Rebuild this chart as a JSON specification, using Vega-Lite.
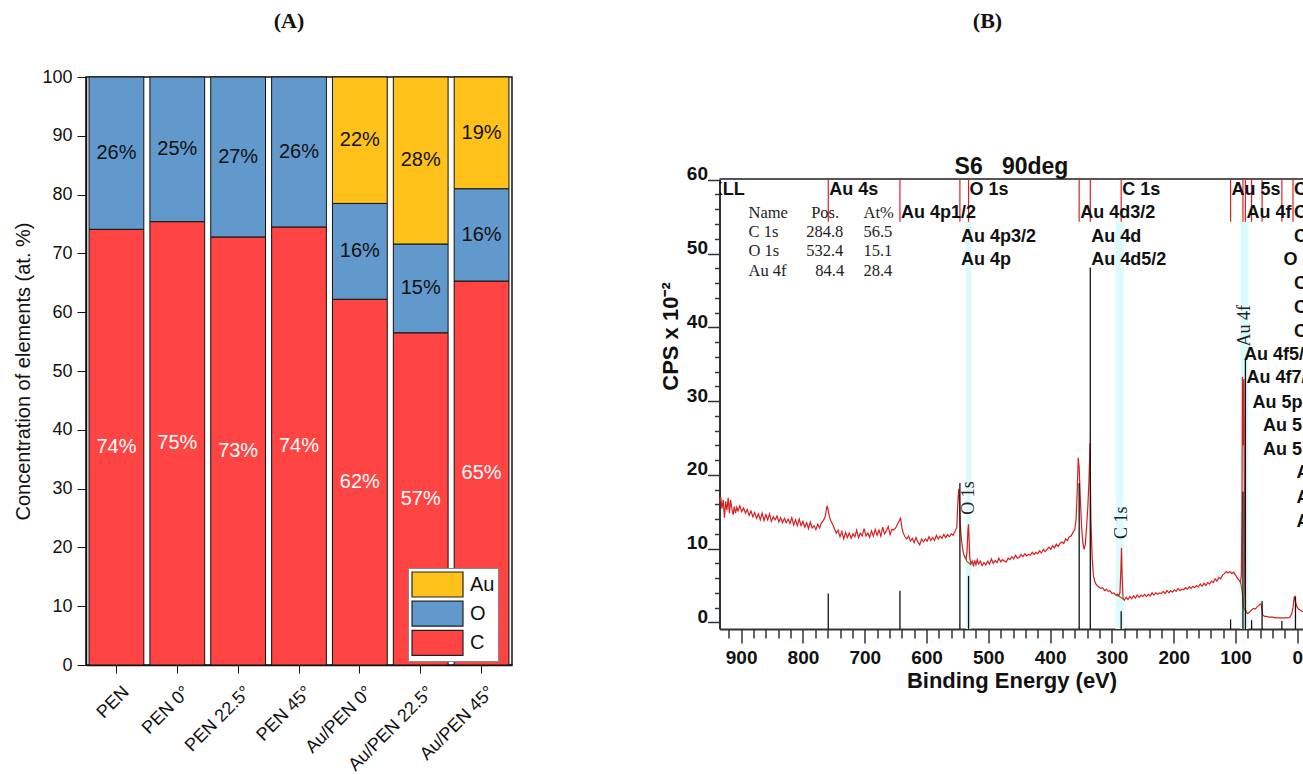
{
 "$schema": "https://vega.github.io/schema/vega-lite/v6.json",
 "background": "white",
 "padding": {"left": 13, "top": 10, "right": 0, "bottom": 0},
 "config": {
  "font": "Liberation Sans",
  "view": {"stroke": null},
  "axis": {"grid": false, "labelColor": "#111", "titleColor": "#111", "domainColor": "#111", "tickColor": "#111", "labelOverlap": false}
 },
 "datasets": {
  "bars": [
   {"sample": "PEN", "element": "C", "value": 74.1, "label": "74%"},
   {"sample": "PEN", "element": "O", "value": 25.9, "label": "26%"},
   {"sample": "PEN 0°", "element": "C", "value": 75.4, "label": "75%"},
   {"sample": "PEN 0°", "element": "O", "value": 24.6, "label": "25%"},
   {"sample": "PEN 22.5°", "element": "C", "value": 72.8, "label": "73%"},
   {"sample": "PEN 22.5°", "element": "O", "value": 27.2, "label": "27%"},
   {"sample": "PEN 45°", "element": "C", "value": 74.5, "label": "74%"},
   {"sample": "PEN 45°", "element": "O", "value": 25.5, "label": "26%"},
   {"sample": "Au/PEN 0°", "element": "C", "value": 62.2, "label": "62%"},
   {"sample": "Au/PEN 0°", "element": "O", "value": 16.3, "label": "16%"},
   {"sample": "Au/PEN 0°", "element": "Au", "value": 21.5, "label": "22%"},
   {"sample": "Au/PEN 22.5°", "element": "C", "value": 56.5, "label": "57%"},
   {"sample": "Au/PEN 22.5°", "element": "O", "value": 15.1, "label": "15%"},
   {"sample": "Au/PEN 22.5°", "element": "Au", "value": 28.4, "label": "28%"},
   {"sample": "Au/PEN 45°", "element": "C", "value": 65.3, "label": "65%"},
   {"sample": "Au/PEN 45°", "element": "O", "value": 15.7, "label": "16%"},
   {"sample": "Au/PEN 45°", "element": "Au", "value": 19.0, "label": "19%"}
  ],
  "spectrum": [
   {"eV":935,"cps":16.4},{"eV":933,"cps":17.0},{"eV":931,"cps":15.4},{"eV":929,"cps":16.6},{"eV":927,"cps":14.2},{"eV":925,"cps":16.4},{"eV":923,"cps":15.2},{"eV":921,"cps":16.9},{"eV":919,"cps":14.8},{"eV":917,"cps":16.6},{"eV":915,"cps":15.4},{"eV":913,"cps":14.6},{"eV":911,"cps":15.7},{"eV":909,"cps":14.8},{"eV":907,"cps":15.6},{"eV":905,"cps":15.1},{"eV":902,"cps":15.8},{"eV":899,"cps":15.0},{"eV":896,"cps":15.5},{"eV":893,"cps":14.8},{"eV":890,"cps":15.3},{"eV":887,"cps":14.5},{"eV":884,"cps":15.1},{"eV":881,"cps":14.3},{"eV":878,"cps":14.9},{"eV":875,"cps":14.1},{"eV":872,"cps":14.7},{"eV":869,"cps":13.9},{"eV":866,"cps":14.8},{"eV":863,"cps":13.8},{"eV":860,"cps":14.6},{"eV":857,"cps":13.9},{"eV":854,"cps":14.7},{"eV":851,"cps":13.7},{"eV":848,"cps":14.3},{"eV":845,"cps":13.9},{"eV":842,"cps":14.4},{"eV":839,"cps":13.6},{"eV":836,"cps":14.2},{"eV":833,"cps":13.5},{"eV":830,"cps":14.1},{"eV":827,"cps":13.5},{"eV":824,"cps":14.0},{"eV":821,"cps":13.4},{"eV":818,"cps":14.2},{"eV":815,"cps":13.2},{"eV":812,"cps":13.9},{"eV":809,"cps":13.1},{"eV":806,"cps":14.0},{"eV":803,"cps":13.1},{"eV":800,"cps":13.7},{"eV":797,"cps":12.9},{"eV":794,"cps":13.5},{"eV":791,"cps":12.7},{"eV":788,"cps":13.6},{"eV":785,"cps":12.8},{"eV":782,"cps":13.1},{"eV":779,"cps":12.6},{"eV":776,"cps":13.3},{"eV":773,"cps":12.8},{"eV":770,"cps":13.5},{"eV":767,"cps":13.8},{"eV":764,"cps":14.3},{"eV":761,"cps":15.8},{"eV":759,"cps":15.2},{"eV":757,"cps":14.3},{"eV":755,"cps":13.8},{"eV":752,"cps":13.3},{"eV":749,"cps":12.7},{"eV":746,"cps":12.1},{"eV":743,"cps":12.5},{"eV":740,"cps":11.6},{"eV":737,"cps":12.3},{"eV":734,"cps":11.3},{"eV":731,"cps":12.2},{"eV":728,"cps":11.5},{"eV":725,"cps":12.1},{"eV":722,"cps":11.4},{"eV":719,"cps":12.0},{"eV":716,"cps":11.6},{"eV":713,"cps":12.5},{"eV":710,"cps":11.5},{"eV":707,"cps":12.1},{"eV":704,"cps":11.7},{"eV":701,"cps":12.7},{"eV":698,"cps":11.7},{"eV":695,"cps":12.1},{"eV":692,"cps":11.5},{"eV":689,"cps":12.4},{"eV":686,"cps":11.7},{"eV":683,"cps":12.6},{"eV":680,"cps":11.8},{"eV":677,"cps":12.5},{"eV":674,"cps":11.7},{"eV":671,"cps":12.9},{"eV":668,"cps":12.0},{"eV":665,"cps":12.4},{"eV":662,"cps":13.0},{"eV":659,"cps":11.9},{"eV":656,"cps":12.6},{"eV":653,"cps":12.5},{"eV":650,"cps":12.8},{"eV":647,"cps":13.3},{"eV":644,"cps":13.8},{"eV":642,"cps":14.1},{"eV":640,"cps":12.9},{"eV":638,"cps":12.2},{"eV":635,"cps":11.6},{"eV":632,"cps":11.3},{"eV":629,"cps":11.7},{"eV":626,"cps":11.0},{"eV":623,"cps":11.4},{"eV":620,"cps":10.8},{"eV":617,"cps":11.5},{"eV":614,"cps":10.9},{"eV":611,"cps":10.5},{"eV":608,"cps":11.3},{"eV":605,"cps":10.9},{"eV":602,"cps":11.3},{"eV":599,"cps":11.0},{"eV":596,"cps":11.6},{"eV":593,"cps":11.1},{"eV":590,"cps":11.5},{"eV":587,"cps":11.1},{"eV":584,"cps":11.8},{"eV":581,"cps":11.3},{"eV":578,"cps":11.7},{"eV":575,"cps":11.4},{"eV":572,"cps":11.9},{"eV":569,"cps":11.5},{"eV":566,"cps":11.9},{"eV":563,"cps":11.6},{"eV":560,"cps":12.0},{"eV":557,"cps":11.8},{"eV":554,"cps":12.3},{"eV":551,"cps":12.9},{"eV":549.5,"cps":16.0},{"eV":548,"cps":18.1},{"eV":547,"cps":17.2},{"eV":545.5,"cps":13.5},{"eV":544,"cps":11.6},{"eV":542,"cps":10.2},{"eV":540,"cps":9.3},{"eV":538,"cps":8.8},{"eV":536,"cps":8.6},{"eV":534.5,"cps":9.5},{"eV":533,"cps":12.5},{"eV":532,"cps":13.3},{"eV":531,"cps":11.0},{"eV":530,"cps":8.7},{"eV":528,"cps":7.9},{"eV":526,"cps":8.3},{"eV":524,"cps":7.6},{"eV":522,"cps":8.4},{"eV":520,"cps":7.8},{"eV":518,"cps":8.5},{"eV":516,"cps":7.9},{"eV":513,"cps":8.3},{"eV":510,"cps":7.7},{"eV":507,"cps":8.1},{"eV":504,"cps":7.8},{"eV":501,"cps":8.3},{"eV":498,"cps":7.9},{"eV":495,"cps":8.6},{"eV":492,"cps":8.0},{"eV":489,"cps":8.4},{"eV":486,"cps":8.1},{"eV":483,"cps":8.7},{"eV":480,"cps":8.2},{"eV":477,"cps":8.5},{"eV":474,"cps":8.3},{"eV":471,"cps":8.2},{"eV":468,"cps":8.7},{"eV":465,"cps":8.5},{"eV":462,"cps":8.9},{"eV":459,"cps":8.6},{"eV":456,"cps":9.1},{"eV":453,"cps":8.7},{"eV":450,"cps":8.8},{"eV":447,"cps":9.2},{"eV":444,"cps":8.9},{"eV":441,"cps":9.3},{"eV":438,"cps":9.0},{"eV":435,"cps":9.2},{"eV":432,"cps":9.1},{"eV":429,"cps":9.5},{"eV":426,"cps":9.2},{"eV":423,"cps":9.5},{"eV":420,"cps":9.3},{"eV":417,"cps":9.7},{"eV":414,"cps":9.4},{"eV":411,"cps":9.9},{"eV":408,"cps":9.6},{"eV":405,"cps":9.9},{"eV":402,"cps":10.2},{"eV":399,"cps":9.9},{"eV":396,"cps":10.4},{"eV":393,"cps":10.1},{"eV":390,"cps":10.6},{"eV":387,"cps":10.3},{"eV":384,"cps":10.7},{"eV":381,"cps":10.9},{"eV":378,"cps":10.7},{"eV":375,"cps":11.3},{"eV":372,"cps":11.1},{"eV":369,"cps":11.6},{"eV":366,"cps":11.7},{"eV":363,"cps":12.2},{"eV":360,"cps":12.6},{"eV":358,"cps":14.0},{"eV":356,"cps":18.0},{"eV":354.5,"cps":22.3},{"eV":353,"cps":21.0},{"eV":351,"cps":16.5},{"eV":349,"cps":12.8},{"eV":347,"cps":10.8},{"eV":345,"cps":9.9},{"eV":343,"cps":10.6},{"eV":341,"cps":13.0},{"eV":339,"cps":15.6},{"eV":337,"cps":19.5},{"eV":335.5,"cps":24.3},{"eV":334,"cps":14.0},{"eV":332,"cps":8.8},{"eV":330,"cps":6.4},{"eV":328,"cps":5.6},{"eV":326,"cps":5.2},{"eV":324,"cps":5.0},{"eV":321,"cps":4.8},{"eV":318,"cps":4.6},{"eV":315,"cps":4.7},{"eV":312,"cps":4.3},{"eV":309,"cps":4.5},{"eV":306,"cps":4.2},{"eV":303,"cps":4.3},{"eV":300,"cps":3.9},{"eV":297,"cps":4.0},{"eV":294,"cps":3.7},{"eV":291,"cps":3.8},{"eV":289,"cps":3.6},{"eV":287,"cps":4.0},{"eV":285.5,"cps":7.0},{"eV":284.5,"cps":10.1},{"eV":283.5,"cps":6.2},{"eV":282,"cps":3.3},{"eV":280,"cps":3.0},{"eV":277,"cps":3.4},{"eV":274,"cps":3.1},{"eV":271,"cps":3.5},{"eV":268,"cps":3.2},{"eV":265,"cps":3.6},{"eV":262,"cps":3.3},{"eV":259,"cps":3.7},{"eV":256,"cps":3.4},{"eV":253,"cps":3.7},{"eV":250,"cps":3.5},{"eV":247,"cps":3.8},{"eV":244,"cps":3.5},{"eV":241,"cps":3.8},{"eV":238,"cps":3.6},{"eV":235,"cps":4.0},{"eV":232,"cps":3.7},{"eV":229,"cps":4.0},{"eV":226,"cps":3.8},{"eV":223,"cps":4.0},{"eV":220,"cps":3.9},{"eV":217,"cps":4.2},{"eV":214,"cps":3.9},{"eV":211,"cps":4.3},{"eV":208,"cps":4.0},{"eV":205,"cps":4.3},{"eV":202,"cps":4.1},{"eV":199,"cps":4.4},{"eV":196,"cps":4.2},{"eV":193,"cps":4.6},{"eV":190,"cps":4.3},{"eV":187,"cps":4.5},{"eV":184,"cps":4.4},{"eV":181,"cps":4.7},{"eV":178,"cps":4.5},{"eV":175,"cps":4.8},{"eV":172,"cps":4.6},{"eV":169,"cps":4.9},{"eV":166,"cps":4.7},{"eV":163,"cps":5.0},{"eV":160,"cps":4.8},{"eV":157,"cps":5.2},{"eV":154,"cps":4.9},{"eV":151,"cps":5.3},{"eV":148,"cps":5.0},{"eV":145,"cps":5.4},{"eV":142,"cps":5.2},{"eV":139,"cps":5.6},{"eV":136,"cps":5.4},{"eV":133,"cps":5.9},{"eV":130,"cps":5.6},{"eV":127,"cps":6.1},{"eV":124,"cps":5.9},{"eV":121,"cps":6.4},{"eV":118,"cps":6.6},{"eV":115,"cps":6.9},{"eV":112,"cps":6.7},{"eV":109,"cps":6.9},{"eV":106,"cps":6.6},{"eV":103,"cps":6.8},{"eV":100,"cps":6.4},{"eV":97,"cps":6.0},{"eV":94,"cps":5.7},{"eV":92,"cps":5.4},{"eV":90.5,"cps":6.5},{"eV":89.5,"cps":16.0},{"eV":88.8,"cps":33.3},{"eV":88.0,"cps":24.0},{"eV":87.2,"cps":30.5},{"eV":86.5,"cps":33.0},{"eV":85.8,"cps":18.0},{"eV":85.0,"cps":4.0},{"eV":84.0,"cps":1.8},{"eV":82,"cps":1.3},{"eV":80,"cps":1.2},{"eV":77,"cps":1.4},{"eV":74,"cps":1.7},{"eV":71,"cps":1.9},{"eV":68,"cps":1.8},{"eV":65,"cps":2.1},{"eV":62,"cps":2.3},{"eV":60,"cps":2.5},{"eV":58,"cps":2.3},{"eV":56,"cps":1.0},{"eV":53,"cps":0.8},{"eV":50,"cps":0.8},{"eV":45,"cps":0.7},{"eV":40,"cps":0.7},{"eV":35,"cps":0.6},{"eV":30,"cps":0.6},{"eV":25,"cps":0.6},{"eV":20,"cps":0.6},{"eV":15,"cps":0.6},{"eV":12,"cps":0.7},{"eV":9,"cps":1.2},{"eV":7,"cps":2.0},{"eV":5,"cps":3.4},{"eV":4,"cps":3.5},{"eV":3,"cps":2.8},{"eV":1,"cps":2.2},{"eV":-2,"cps":1.8},{"eV":-5,"cps":1.6},{"eV":-8,"cps":1.5},{"eV":-10,"cps":1.5}
  ],
  "bg": [
   {"peak": "O 1s", "eV": 538, "cps": 9.0}, {"peak": "O 1s", "eV": 535, "cps": 8.3}, {"peak": "O 1s", "eV": 528, "cps": 7.8},
   {"peak": "C 1s", "eV": 294, "cps": 3.7}, {"peak": "C 1s", "eV": 288, "cps": 3.5}, {"peak": "C 1s", "eV": 281, "cps": 3.1},
   {"peak": "Au 4f", "eV": 91.5, "cps": 5.4}, {"peak": "Au 4f", "eV": 89, "cps": 4.0}, {"peak": "Au 4f", "eV": 87, "cps": 2.0}, {"peak": "Au 4f", "eV": 82, "cps": 1.3}
  ],
  "sticks": [
   {"eV": 759, "h": 3.9}, {"eV": 643, "h": 4.3}, {"eV": 546, "h": 18.9}, {"eV": 532, "h": 6.3},
   {"eV": 353, "h": 18.9}, {"eV": 335, "h": 48.1}, {"eV": 285, "h": 1.5}, {"eV": 108, "h": 0.4},
   {"eV": 88, "h": 17.7}, {"eV": 84, "h": 35.8}, {"eV": 74, "h": 0.3}, {"eV": 57, "h": 2.9},
   {"eV": 25, "h": 0.2}, {"eV": 3, "h": 3.5}
  ],
  "markers": [
   {"eV": 759}, {"eV": 643}, {"eV": 546}, {"eV": 532}, {"eV": 353}, {"eV": 335}, {"eV": 285},
   {"eV": 108}, {"eV": 88}, {"eV": 84}, {"eV": 74}, {"eV": 57}, {"eV": 25}, {"eV": 7}
  ],
  "bands": [
   {"region": "O 1s", "lo": 528, "hi": 536},
   {"region": "C 1s", "lo": 281, "hi": 294},
   {"region": "Au 4f", "lo": 79, "hi": 92}
  ],
  "peaklabels": [
   {"eV": 983, "cps": 58.6, "text": "O KLL"},
   {"eV": 759, "cps": 58.6, "text": "Au 4s"},
   {"eV": 532, "cps": 58.6, "text": "O 1s"},
   {"eV": 285, "cps": 58.6, "text": "C 1s"},
   {"eV": 108, "cps": 58.6, "text": "Au 5s"},
   {"eV": 7, "cps": 58.6, "text": "C 2s"},
   {"eV": 643, "cps": 55.5, "text": "Au 4p1/2"},
   {"eV": 353, "cps": 55.5, "text": "Au 4d3/2"},
   {"eV": 84, "cps": 55.5, "text": "Au 4f"},
   {"eV": 7, "cps": 55.5, "text": "C 2p"},
   {"eV": 546, "cps": 52.2, "text": "Au 4p3/2"},
   {"eV": 335, "cps": 52.2, "text": "Au 4d"},
   {"eV": 7, "cps": 52.2, "text": "C 2s"},
   {"eV": 546, "cps": 49.1, "text": "Au 4p"},
   {"eV": 335, "cps": 49.1, "text": "Au 4d5/2"},
   {"eV": 24, "cps": 49.1, "text": "O 2s"},
   {"eV": 7, "cps": 45.8, "text": "C 2p"},
   {"eV": 7, "cps": 42.6, "text": "C 2s"},
   {"eV": 7, "cps": 39.3, "text": "C 2p"},
   {"eV": 88, "cps": 36.2, "text": "Au 4f5/2"},
   {"eV": 84, "cps": 33.1, "text": "Au 4f7/2"},
   {"eV": 74, "cps": 29.8, "text": "Au 5p1/2"},
   {"eV": 57, "cps": 26.6, "text": "Au 5p3/2"},
   {"eV": 57, "cps": 23.4, "text": "Au 5p"},
   {"eV": 3, "cps": 20.2, "text": "Au 5d"},
   {"eV": 3, "cps": 16.9, "text": "Au 5d5/2"},
   {"eV": 3, "cps": 13.6, "text": "Au 5d3/2"}
  ],
  "table": [
   {"eV": 888, "cps": 55.5, "text": "Name"},
   {"eV": 786.7, "cps": 55.5, "text": "Pos."},
   {"eV": 702, "cps": 55.5, "text": "At%"},
   {"eV": 888, "cps": 52.9, "text": "C 1s"},
   {"eV": 794.7, "cps": 52.9, "text": "284.8"},
   {"eV": 702, "cps": 52.9, "text": "56.5"},
   {"eV": 888, "cps": 50.3, "text": "O 1s"},
   {"eV": 794.7, "cps": 50.3, "text": "532.4"},
   {"eV": 702, "cps": 50.3, "text": "15.1"},
   {"eV": 888, "cps": 47.65, "text": "Au 4f"},
   {"eV": 780, "cps": 47.65, "text": "84.4"},
   {"eV": 702, "cps": 47.65, "text": "28.4"}
  ],
  "vlabels": [
   {"eV": 532, "cps": 14.6, "text": "O 1s"},
   {"eV": 284.5, "cps": 11.3, "text": "C 1s"},
   {"eV": 84.5, "cps": 37.4, "text": "Au 4f"}
  ]
 },
 "spacing": 145.5,
 "hconcat": [
  {
   "spacing": 0,
   "vconcat": [
    {
     "width": 426, "height": 34,
     "data": {"values": []},
     "mark": "point",
     "title": {"text": "(A)", "font": "Liberation Serif", "fontSize": 22, "fontWeight": "bold", "color": "#111", "offset": 0, "dx": -10}
    },
    {
     "width": 426,
     "height": 588,
     "view": {"stroke": "#111", "strokeWidth": 1.5},
     "data": {"name": "bars"},
     "transform": [{"stack": "value", "groupby": ["sample"], "as": ["v0", "v1"]}],
     "layer": [
      {
       "mark": {"type": "bar", "stroke": "#111", "strokeWidth": 1},
       "encoding": {
        "x": {"field": "sample", "type": "nominal",
              "sort": ["PEN", "PEN 0°", "PEN 22.5°", "PEN 45°", "Au/PEN 0°", "Au/PEN 22.5°", "Au/PEN 45°"],
              "scale": {"paddingInner": 0.1, "paddingOuter": 0.05},
              "axis": {"title": null, "labelAngle": -45, "labelAlign": "right", "labelBaseline": "middle", "labelFontSize": 18, "labelPadding": 16, "labelOffset": 10, "tickSize": 8, "domainWidth": 1.5}},
        "y": {"field": "v0", "type": "quantitative", "scale": {"domain": [0, 100], "nice": false},
              "axis": {"title": "Concentration of elements (at. %)", "values": [0,5,10,15,20,25,30,35,40,45,50,55,60,65,70,75,80,85,90,95,100],
                       "labelExpr": "datum.value % 10 === 0 ? datum.label : ''",
                       "tickSize": {"condition": {"test": "datum.value % 10 === 0", "value": 9}, "value": 5},
                       "labelFontSize": 18, "labelPadding": 5, "titleFontSize": 20, "titleFontWeight": "normal", "titlePadding": 8, "domainWidth": 1.5}},
        "y2": {"field": "v1"},
        "fill": {"field": "element", "type": "nominal",
                 "scale": {"domain": ["Au", "O", "C"], "range": ["#FFC21A", "#6299CC", "#FF4444"]},
                 "legend": {"title": null, "orient": "none", "legendX": 322, "legendY": 535, "direction": "vertical",
                            "symbolType": "M-2,-0.98H2V0.98H-2Z", "symbolSize": 650, "symbolOffset": 13, "symbolStrokeColor": "#222", "symbolStrokeWidth": 1.2,
                            "labelFontSize": 20, "labelColor": "#111", "labelOffset": 19, "rowPadding": -1.8, "padding": 3,
                            "strokeColor": "#888", "fillColor": "white"}}
       }
      },
      {
       "transform": [
        {"fold": ["v0", "v1"], "as": ["edge", "pos"]},
        {"aggregate": [{"op": "mean", "field": "pos", "as": "mid"}], "groupby": ["sample", "element", "label"]}
       ],
       "mark": {"type": "text", "fontSize": 20, "baseline": "middle"},
       "encoding": {
        "x": {"field": "sample", "type": "nominal", "sort": ["PEN", "PEN 0°", "PEN 22.5°", "PEN 45°", "Au/PEN 0°", "Au/PEN 22.5°", "Au/PEN 45°"]},
        "y": {"field": "mid", "type": "quantitative"},
        "text": {"field": "label"},
        "color": {"condition": {"test": "datum.element === 'C'", "value": "white"}, "value": "#111"}
       }
      }
     ]
    }
   ]
  },
  {
   "spacing": 0,
   "vconcat": [
    {
     "width": 584, "height": 122,
     "data": {"values": []},
     "mark": "point",
     "title": {"text": "(B)", "font": "Liberation Serif", "fontSize": 22, "fontWeight": "bold", "color": "#111", "offset": 0, "dx": -24}
    },
    {
     "width": 584,
     "height": 450,
     "view": {"stroke": null},
     "title": {"text": "S6\u00a0\u00a0 90deg", "fontSize": 23, "fontWeight": "bold", "color": "#111", "offset": -14, "frame": "group"},
     "resolve": {"axis": {"x": "independent", "y": "independent"}},
     "layer": [
      {
       "data": {"name": "bands"},
       "mark": {"type": "rect", "color": "#DDFAFA"},
       "encoding": {
        "x": {"field": "lo", "type": "quantitative", "scale": {"domain": [-10, 935], "reverse": true, "nice": false, "zero": false}, "axis": null},
        "x2": {"field": "hi"},
        "y": {"datum": 54.3, "type": "quantitative", "scale": {"domain": [-0.9, 60.1], "nice": false, "zero": false}, "axis": null},
        "y2": {"datum": -0.9}
       }
      },
      {
       "data": {"values": [{"edge": "top"}]},
       "mark": {"type": "rule", "color": "#555", "strokeWidth": 2},
       "encoding": {
        "y": {"datum": 60.1, "type": "quantitative", "axis": null}
       }
      },
      {
       "data": {"name": "spectrum"},
       "mark": {"type": "line", "color": "#D81E1E", "strokeWidth": 1.2},
       "encoding": {
        "x": {"field": "eV", "type": "quantitative",
              "axis": {"orient": "bottom", "title": "Binding Energy (eV)", "values": [0,20,40,60,80,100,120,140,160,180,200,220,240,260,280,300,320,340,360,380,400,420,440,460,480,500,520,540,560,580,600,620,640,660,680,700,720,740,760,780,800,820,840,860,880,900,920],
                       "labelExpr": "datum.value % 100 === 0 ? datum.label : ''",
                       "tickSize": {"condition": {"test": "datum.value % 100 === 0", "value": 14}, "value": 9},
                       "labelFontSize": 19, "labelFontWeight": "bold", "labelPadding": 5, "titleFontSize": 22, "titleFontWeight": "bold", "titlePadding": 3,
                       "domainColor": "#333", "domainWidth": 2, "tickColor": "#333", "tickWidth": 1.5, "labelFlush": false}},
        "y": {"field": "cps", "type": "quantitative",
              "axis": {"orient": "left", "title": "CPS x 10⁻²", "values": [0,2,4,6,8,10,12,14,16,18,20,22,24,26,28,30,32,34,36,38,40,42,44,46,48,50,52,54,56,58,60],
                       "labelExpr": "datum.value % 10 === 0 ? datum.label : ''",
                       "tickSize": {"condition": {"test": "datum.value % 10 === 0", "value": 12}, "value": 5},
                       "labelFontSize": 19, "labelFontWeight": "bold", "labelBaseline": "alphabetic", "labelPadding": 0,
                       "titleFontSize": 22, "titleFontWeight": "bold", "titlePadding": 4, "titleY": 157,
                       "domainColor": "#333", "domainWidth": 2, "tickColor": "#333", "tickWidth": 1.5}}
       }
      },
      {
       "data": {"name": "bg"},
       "mark": {"type": "line", "color": "#8C6A1A", "strokeWidth": 1.2},
       "encoding": {
        "x": {"field": "eV", "type": "quantitative", "axis": null},
        "y": {"field": "cps", "type": "quantitative", "axis": null},
        "detail": {"field": "peak"}
       }
      },
      {
       "data": {"name": "sticks"},
       "mark": {"type": "rule", "color": "#111", "strokeWidth": 1.3},
       "encoding": {
        "x": {"field": "eV", "type": "quantitative", "axis": null},
        "y": {"field": "h", "type": "quantitative", "axis": null},
        "y2": {"datum": -0.9}
       }
      },
      {
       "data": {"name": "markers"},
       "mark": {"type": "rule", "color": "#E02020", "strokeWidth": 1.2},
       "encoding": {
        "x": {"field": "eV", "type": "quantitative", "axis": null},
        "y": {"datum": 60.1, "type": "quantitative", "axis": null},
        "y2": {"datum": 54.3}
       }
      },
      {
       "data": {"name": "peaklabels"},
       "mark": {"type": "text", "align": "left", "baseline": "middle", "fontSize": 18, "fontWeight": "bold", "color": "#111", "clip": true, "dx": 1},
       "encoding": {
        "x": {"field": "eV", "type": "quantitative", "axis": null},
        "y": {"field": "cps", "type": "quantitative", "axis": null},
        "text": {"field": "text"}
       }
      },
      {
       "data": {"name": "table"},
       "mark": {"type": "text", "align": "left", "baseline": "middle", "fontSize": 16.5, "font": "Liberation Serif", "color": "#222"},
       "encoding": {
        "x": {"field": "eV", "type": "quantitative", "axis": null},
        "y": {"field": "cps", "type": "quantitative", "axis": null},
        "text": {"field": "text"}
       }
      },
      {
       "data": {"name": "vlabels"},
       "mark": {"type": "text", "align": "left", "baseline": "middle", "angle": 270, "fontSize": 18, "font": "Liberation Serif", "color": "#222"},
       "encoding": {
        "x": {"field": "eV", "type": "quantitative", "axis": null},
        "y": {"field": "cps", "type": "quantitative", "axis": null},
        "text": {"field": "text"}
       }
      }
     ]
    }
   ]
  }
 ]
}
